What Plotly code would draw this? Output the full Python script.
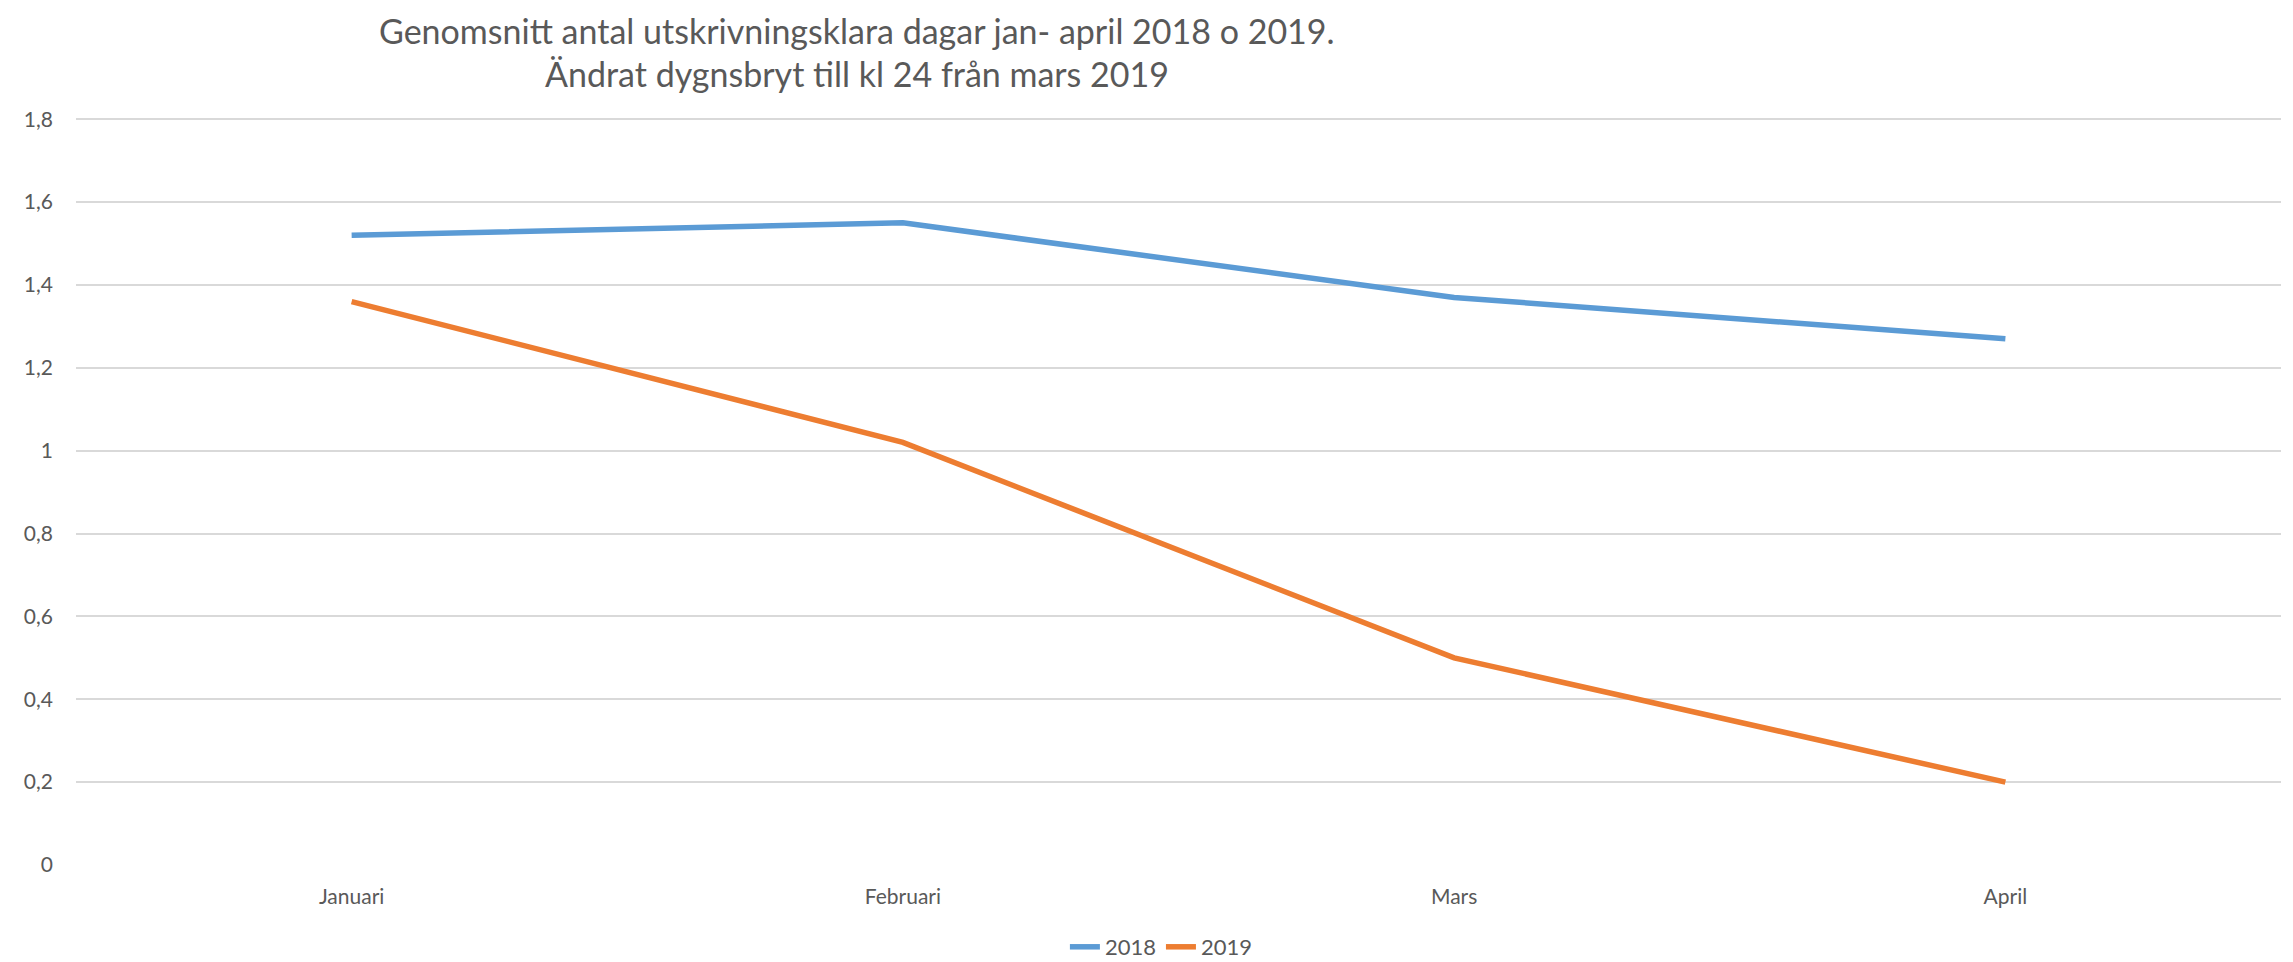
import plotly.graph_objects as go

months = ["Januari", "Februari", "Mars", "April"]
values_2018 = [1.52, 1.55, 1.37, 1.27]
values_2019 = [1.36, 1.02, 0.50, 0.20]
y_tickvals = [0, 0.2, 0.4, 0.6, 0.8, 1.0, 1.2, 1.4, 1.6, 1.8]
y_ticktext = ["0", "0,2", "0,4", "0,6", "0,8", "1", "1,2", "1,4", "1,6", "1,8"]
title_lines = ["Genomsnitt antal utskrivningsklara dagar jan- april 2018 o 2019.",
               "Ändrat dygnsbryt till kl 24 från mars 2019"]

FONT = "Lato"
TXT = "#595959"
# page body has an 8px margin, so the figure is drawn 8px in from the corner
OFF = 8
W, H = 2293 - 2 * OFF, 962 - OFF
ML, MR, MT, MB = 67.5, 4.3, 109.7, 96.5

fig = go.Figure()
fig.add_trace(go.Scatter(x=months, y=values_2018, mode="lines", name="2018",
                         line=dict(color="#5B9BD5", width=5.5)))
fig.add_trace(go.Scatter(x=months, y=values_2019, mode="lines", name="2019",
                         line=dict(color="#ED7D31", width=5.5)))

plot_w = W - ML - MR
plot_h = H - MT - MB
xc = (857 - OFF - ML) / plot_w
for txt, top_px in zip(title_lines, [0, 43]):
    fig.add_annotation(text=txt, xref="paper", yref="paper",
                       x=xc, xanchor="center",
                       y=(H - MB - top_px) / plot_h, yanchor="top",
                       showarrow=False,
                       font=dict(family=FONT, size=34, color=TXT))

fig.update_layout(
    width=W, height=H,
    paper_bgcolor="white", plot_bgcolor="white",
    separators=", ",
    font=dict(family=FONT, color=TXT, size=21),
    margin=dict(l=ML, r=MR, t=MT, b=MB, autoexpand=False),
    showlegend=True,
    legend=dict(orientation="h", x=(1161 - OFF - ML) / plot_w, xanchor="center",
                yref="container", y=1 - (947 - OFF) / H, yanchor="middle",
                font=dict(family=FONT, size=22, color=TXT)),
)
fig.update_xaxes(type="category", range=[-0.5, 3.5], showgrid=False, zeroline=False,
                 showline=False, ticks="", ticklabelstandoff=17,
                 tickfont=dict(family=FONT, size=21, color=TXT))
fig.update_yaxes(range=[0, 1.803], tickvals=y_tickvals, ticktext=y_ticktext,
                 showgrid=True, gridcolor="#D9D9D9", gridwidth=1.5, zeroline=False,
                 showline=False, ticks="", ticklabelstandoff=22,
                 tickfont=dict(family=FONT, size=21, color=TXT))

fig.write_html("out.html")
